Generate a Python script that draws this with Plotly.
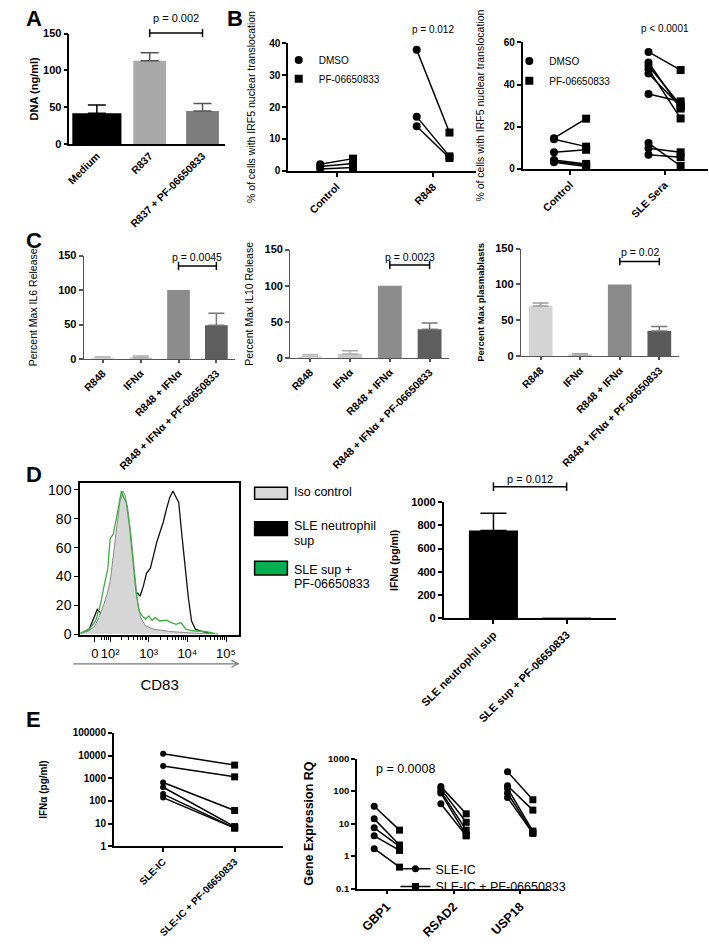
import math
import plotly.graph_objects as go

W, H = 709, 946
FONT = "Liberation Sans, Arial, Helvetica, sans-serif"

# ---------------- data ----------------
# Panel A
a_cats = ["Medium", "R837", "R837 + PF-06650833"]
a_mean = [42, 113, 45]
a_sem = [11, 11, 10]
a_pval = "p = 0.002"

# Panel B (left)
bl_cats = ["Control", "R848"]
bl_dmso = [[2.0, 1.3, 0.5], [38.0, 17.0, 14.0]]
bl_pf = [[3.8, 2.3, 1.0], [12.0, 4.5, 4.0]]
bl_pval = "p = 0.012"

# Panel B (right)
br_cats = ["Control", "SLE Sera"]
br_dmso = [[14.5, 14.0, 7.8, 4.2, 3.6, 3.1],
           [55.5, 50.5, 48.9, 47.3, 45.3, 35.5, 12.2, 9.7, 6.7]]
br_pf = [[23.8, 10.5, 9.0, 2.3, 1.6, 1.1],
         [46.9, 28.6, 30.2, 23.9, 29.5, 32.0, 1.3, 7.8, 5.5]]
br_pval = "p < 0.0001"
b_groups = ["DMSO", "PF-06650833"]
b_title = "% of cells with IRF5 nuclear translocation"

# Panel C
c_cats = ["R848", "IFNα", "R848 + IFNα", "R848 + IFNα + PF-06650833"]
c_il6_mean = [2.4, 1.9, 100, 49]
c_il6_sem = [0.9, 2.4, 0, 17.5]
c_il10_mean = [2.5, 5.5, 100, 40]
c_il10_sem = [2.5, 4.5, 0, 8.5]
c_pb_mean = [70, 1.8, 100, 35]
c_pb_sem = [4, 1.4, 0, 6.5]
c_pvals = ["p = 0.0045", "p = 0.0023", "p = 0.02"]
c_titles = ["Percent Max IL6 Release", "Percent Max IL10 Release", "Percent Max plasmablasts"]

# Panel D histogram (x in display decades of CD83, y in % of max)
d_tick_pos = [1.608, 2, 3, 4, 5]
d_tick_text = ["0", "10²", "10³", "10⁴", "10⁵"]
iso_x = [1.25, 1.458, 1.608, 1.708, 1.833, 1.917, 2.0, 2.083, 2.167, 2.25, 2.333, 2.392,
         2.458, 2.542, 2.625, 2.708, 2.792, 2.917, 3.125, 3.542, 4.125, 4.792]
iso_y = [0.5, 2.3, 5.7, 11.4, 20.5, 27.4, 36.5, 54.8, 75.3, 91.3, 99.3, 95.9,
         86.8, 68.5, 45.7, 22.8, 11.4, 5.7, 3.4, 1.8, 0.7, 0.2]
sle_x = [1.25, 1.458, 1.667, 1.792, 1.917, 2.083, 2.25, 2.458, 2.625, 2.708,
         2.775, 2.858, 2.942, 3.042, 3.125, 3.208, 3.292, 3.375, 3.458, 3.542,
         3.625, 3.692, 3.775, 3.858, 3.942, 4.025, 4.108, 4.208, 4.375, 4.625]
sle_y = [0.5, 3.4, 17.1, 13.7, 18.0, 22.0, 24.0, 26.0, 27.5, 28.5,
         26.3, 33.1, 42.2, 45.7, 54.8, 63.9, 70.8, 77.6, 86.8, 94.7,
         99.3, 95.9, 91.3, 68.5, 45.7, 25.1, 9.1, 3.4, 1.8, 0.5]
pf_x = [1.225, 1.458, 1.625, 1.75, 1.833, 1.942, 2.0, 2.083, 2.167, 2.233,
        2.292, 2.333, 2.417, 2.5, 2.583, 2.667, 2.75, 2.833, 2.917, 3.0,
        3.083, 3.167, 3.292, 3.458, 3.583, 3.708, 3.833, 3.958, 4.125, 4.458, 4.708]
pf_y = [0.5, 3.4, 9.1, 20.5, 32.0, 45.7, 66.2, 69.6, 81.0, 91.3,
        99.3, 95.9, 91.3, 75.3, 52.5, 29.7, 16.0, 12.6, 10.3, 12.6,
        9.6, 11.4, 9.1, 9.6, 8.0, 6.8, 8.0, 3.4, 2.3, 1.8, 0.5]
d_legend_lines = [["Iso control"], ["SLE neutrophil", "sup"], ["SLE sup +", "PF-06650833"]]

# Panel D bar
d_cats = ["SLE neutrophil sup", "SLE sup + PF-06650833"]
d_mean = [755, 4]
d_sem = [150, 0]
d_pval = "p = 0.012"

# Panel E left
e_cats = ["SLE-IC", "SLE-IC + PF-06650833"]
e_ic = [12000, 3500, 650, 400, 200, 140]
e_ic_pf = [3800, 1150, 38, 7.4, 6.5, 6.3]
e_yticks = [1, 10, 100, 1000, 10000, 100000]

# Panel E right
er_genes = ["GBP1", "RSAD2", "USP18"]
er_ic = [[34, 14, 7.4, 4.2, 1.7], [137, 117, 98, 87, 41], [394, 145, 122, 87, 63]]
er_pf = [[6.3, 2.2, 2.0, 1.5, 0.46], [20, 11, 6.3, 4.4, 4.2], [54, 26, 5.9, 5.3, 5.0]]
er_groups = ["SLE-IC", "SLE-IC + PF-06650833"]
er_pval = "p = 0.0008"
er_yticks = [0.1, 1, 10, 100, 1000]


# ---------------- helpers ----------------
def xd(l, r):
    return [l / W, r / W]


def yd(top, bottom):
    return [1 - bottom / H, 1 - top / H]


def px(x):
    return x / W


def py(y):
    return 1 - y / H


def bold(s):
    return dict(family=FONT, size=s, color="black", weight="bold")


def reg(s):
    return dict(family=FONT, size=s, color="black")


def ax(**kw):
    d = dict(showgrid=False, zeroline=False, showline=True, linecolor="black", linewidth=1.5,
             ticks="outside", ticklen=4, tickwidth=1.5, tickcolor="black", fixedrange=True)
    d.update(kw)
    return d


def leg(x, top, size):
    return dict(x=px(x), y=py(top), xanchor="left", yanchor="top", font=reg(size),
                bgcolor="rgba(0,0,0,0)", itemwidth=30, tracegroupgap=0, borderwidth=0)


fig = go.Figure()


def add_bars(xa, ya, cats, means, sems, colors, ecolors, widths, capw):
    for c, m, s, col, ec, w in zip(cats, means, sems, colors, ecolors, widths):
        fig.add_trace(go.Bar(
            x=[c], y=[m], width=[w], xaxis=xa, yaxis=ya, showlegend=False,
            marker=dict(color=col, line=dict(width=0)),
            error_y=dict(type="data", array=[s], arrayminus=[0], symmetric=False,
                         visible=s > 0, color=ec, thickness=1.5, width=capw),
            hoverinfo="skip"))


def add_bracket(xa, ya, c1, c2):
    fig.add_trace(go.Scatter(
        x=[c1, c1, None, c1, c2, None, c2, c2], y=[0, 1, None, 0.5, 0.5, None, 0, 1],
        mode="lines", line=dict(color="black", width=1.5), xaxis=xa, yaxis=ya,
        showlegend=False, hoverinfo="skip"))


def add_pairs(xa, ya, g1, g2, off, msize, names, legends, lw=1.5, legend_lines=False):
    lx, ly, x1, y1, x2, y2 = [], [], [], [], [], []
    for ci, (v1, v2) in enumerate(zip(g1, g2)):
        for a, b in zip(v1, v2):
            lx += [ci - off, ci + off, None]
            ly += [a, b, None]
            x1 += [ci - off]
            y1 += [a]
            x2 += [ci + off]
            y2 += [b]
    fig.add_trace(go.Scatter(x=lx, y=ly, mode="lines", line=dict(color="black", width=lw),
                             xaxis=xa, yaxis=ya, showlegend=False, hoverinfo="skip",
                             cliponaxis=False))
    for xs, ys, sym, nm, lg in [(x1, y1, "circle", names[0], legends[0]),
                                (x2, y2, "square", names[1], legends[1])]:
        if legend_lines:
            xi, yi = [], []
            for a, b in zip(xs, ys):
                xi += [a, None]
                yi += [b, None]
            xs, ys, mode = xi, yi, "lines+markers"
        else:
            mode = "markers"
        fig.add_trace(go.Scatter(
            x=xs, y=ys, mode=mode, name=nm, legend=lg, showlegend=True,
            marker=dict(symbol=sym, size=msize, color="black"),
            line=dict(color="black", width=lw), connectgaps=False,
            xaxis=xa, yaxis=ya, cliponaxis=False))


# ---------------- Panel A ----------------
add_bars("x", "y", a_cats, a_mean, a_sem, ["#000000", "#a9a9a9", "#7d7d7d"],
         ["#000000", "#555555", "#555555"], [0.93, 0.62, 0.62], 9)
add_bracket("x", "y11", a_cats[1], a_cats[2])

# ---------------- Panel B ----------------
add_pairs("x2", "y2", bl_dmso, bl_pf, 0.17, 8, b_groups, ["legend", "legend4"])
add_pairs("x3", "y3", br_dmso, br_pf, 0.17, 8, b_groups, ["legend2", "legend5"])

# ---------------- Panel C ----------------
c_cols = ["#dcdcdc", "#c8c8c8", "#8c8c8c", "#5e5e5e"]
c_ecols = ["#bbbbbb", "#aaaaaa", "#777777", "#777777"]
add_bars("x4", "y4", c_cats, c_il6_mean, c_il6_sem, c_cols, c_ecols, [0.6] * 4, 8)
add_bars("x5", "y5", c_cats, c_il10_mean, c_il10_sem, c_cols, c_ecols, [0.6] * 4, 8)
add_bars("x6", "y6", c_cats, c_pb_mean, c_pb_sem, ["#d4d4d4", "#c8c8c8", "#8a8a8a", "#5a5a5a"],
         ["#999999", "#aaaaaa", "#777777", "#777777"], [0.6] * 4, 8)
add_bracket("x4", "y12", c_cats[2], c_cats[3])
add_bracket("x5", "y13", c_cats[2], c_cats[3])
add_bracket("x6", "y14", c_cats[2], c_cats[3])

# ---------------- Panel D histogram ----------------
fig.add_trace(go.Scatter(x=sle_x, y=sle_y, mode="lines", line=dict(color="#111111", width=1.3),
                         xaxis="x7", yaxis="y7", showlegend=False, hoverinfo="skip"))
fig.add_trace(go.Scatter(x=iso_x, y=iso_y, mode="lines", fill="tozeroy", fillcolor="#d6d6d6",
                         line=dict(color="#8a8a8a", width=1), xaxis="x7", yaxis="y7",
                         showlegend=False, hoverinfo="skip"))
fig.add_trace(go.Scatter(x=pf_x, y=pf_y, mode="lines", line=dict(color="#3cb043", width=1.3),
                         xaxis="x7", yaxis="y7", showlegend=False, hoverinfo="skip"))

# ---------------- Panel D bar ----------------
add_bars("x8", "y8", d_cats, d_mean, d_sem, ["#000000", "#999999"], ["#000000", "#999999"],
         [0.67, 0.67], 13)
add_bracket("x8", "y15", d_cats[0], d_cats[1])

# ---------------- Panel E left ----------------
lx, ly = [], []
for a, b in zip(e_ic, e_ic_pf):
    lx += [e_cats[0], e_cats[1], None]
    ly += [a, b, None]
fig.add_trace(go.Scatter(x=lx, y=ly, mode="lines", line=dict(color="black", width=1.5),
                         xaxis="x9", yaxis="y9", showlegend=False, hoverinfo="skip"))
fig.add_trace(go.Scatter(x=[e_cats[0]] * len(e_ic), y=e_ic, mode="markers",
                         marker=dict(symbol="circle", size=6, color="black"),
                         xaxis="x9", yaxis="y9", showlegend=False, cliponaxis=False))
fig.add_trace(go.Scatter(x=[e_cats[1]] * len(e_ic_pf), y=e_ic_pf, mode="markers",
                         marker=dict(symbol="square", size=7, color="black"),
                         xaxis="x9", yaxis="y9", showlegend=False, cliponaxis=False))

# ---------------- Panel E right ----------------
add_pairs("x10", "y10", er_ic, er_pf, 0.19, 7, er_groups, ["legend3", "legend6"],
          legend_lines=True)

# ---------------- layout ----------------
c_x = dict(type="category", range=[-0.5, 3.5], tickangle=-45, tickfont=bold(10.5),
           linecolor="#555555", tickcolor="#555555", linewidth=1.3, ticklen=3)
c_y = dict(range=[0, 150], tickvals=[0, 50, 100, 150], tickfont=bold(11),
           linecolor="#555555", tickcolor="#555555", linewidth=1.3)

minor_d = []
for k in [1, 2, 3, 4]:
    for m in range(2, 10):
        v = k + math.log10(m)
        if 1.7 < v < 5.3:
            minor_d.append(v)

layout = dict(
    width=W, height=H, margin=dict(l=0, r=0, t=0, b=0),
    paper_bgcolor="white", plot_bgcolor="rgba(0,0,0,0)",
    barmode="overlay", font=dict(family=FONT, color="black"),
    hovermode=False,
    # A
    xaxis=ax(domain=xd(46, 207), anchor="y", type="category", range=[-0.52, 2.42],
             tickangle=-45, tickfont=bold(10.5), ticks=""),
    yaxis=ax(domain=yd(28, 140), anchor="x", range=[0, 150], tickvals=[0, 50, 100, 150],
             tickfont=bold(11), title=dict(text="DNA (ng/ml)", font=bold(11), standoff=2)),
    # B left
    xaxis2=ax(domain=xd(273, 467), anchor="y2", range=[-0.5, 1.44], tickvals=[0, 1],
              ticktext=bl_cats, tickangle=-45, tickfont=bold(10.5), linewidth=2),
    yaxis2=ax(domain=yd(38, 167), anchor="x2", range=[0, 40], dtick=10, tickfont=bold(10),
              linewidth=2, title=dict(text=b_title, font=reg(10.5), standoff=12)),
    # B right
    xaxis3=ax(domain=xd(516, 708), anchor="y3", range=[-0.5, 1.46], tickvals=[0, 1],
              ticktext=br_cats, tickangle=-45, tickfont=bold(10.5), linewidth=2),
    yaxis3=ax(domain=yd(37, 165), anchor="x3", range=[0, 60], dtick=20, tickfont=bold(10),
              linewidth=2, title=dict(text=b_title, font=reg(10.5), standoff=17)),
    # C
    xaxis4=ax(domain=xd(61, 218), anchor="y4", **c_x),
    yaxis4=ax(domain=yd(253, 358), anchor="x4",
              title=dict(text=c_titles[0], font=reg(10.5), standoff=18), **c_y),
    xaxis5=ax(domain=xd(275, 440), anchor="y5", **c_x),
    yaxis5=ax(domain=yd(247, 357), anchor="x5",
              title=dict(text=c_titles[1], font=reg(10.5), standoff=8), **c_y),
    xaxis6=ax(domain=xd(514, 678), anchor="y6", **c_x),
    yaxis6=ax(domain=yd(246, 355), anchor="x6",
              title=dict(text=c_titles[2], font=bold(9.5), standoff=8), **c_y),
    # D histogram
    xaxis7=ax(domain=xd(57, 222), anchor="y7", range=[1.22, 5.34], tickvals=d_tick_pos,
              ticktext=d_tick_text, tickfont=reg(13), tickangle=0, mirror=True, ticklen=5,
              tickwidth=1.2,
              minor=dict(tickvals=minor_d, ticklen=3, tickwidth=1, tickcolor="black",
                         ticks="outside"),
              title=dict(text="CD83", font=reg(15), standoff=20)),
    yaxis7=ax(domain=yd(484, 638), anchor="x7", range=[-0.8, 104.6],
              tickvals=[0, 20, 40, 60, 80, 100], tickfont=reg(14), mirror=True,
              tickwidth=1.2),
    # D bar
    xaxis8=ax(domain=xd(434, 613), anchor="y8", type="category", range=[-0.68, 1.68],
              tickangle=-45, tickfont=bold(11)),
    yaxis8=ax(domain=yd(503, 621), anchor="x8", range=[0, 1000], dtick=200,
              tickfont=bold(11), title=dict(text="IFNα (pg/ml)", font=bold(10.5), standoff=11)),
    # E left
    xaxis9=ax(domain=xd(92, 267), anchor="y9", type="category", range=[-0.69, 1.67],
              tickangle=-45, tickfont=bold(10)),
    yaxis9=ax(domain=yd(737, 852), anchor="x9", type="log", range=[0, 5],
              tickvals=e_yticks, ticktext=[str(v) for v in e_yticks], tickfont=bold(10),
              title=dict(text="IFNα (pg/ml)", font=bold(10), standoff=23)),
    # E right
    xaxis10=ax(domain=xd(344, 543), anchor="y10", range=[-0.45, 2.43], tickvals=[0, 1, 2],
               ticktext=er_genes, tickangle=-45, tickfont=bold(12.5)),
    yaxis10=ax(domain=yd(763, 895), anchor="x10", type="log", range=[-1, 3],
               tickvals=er_yticks, ticktext=["0.1", "1", "10", "100", "1000"],
               tickfont=bold(9.5),
               title=dict(text="Gene Expression RQ", font=bold(12.5), standoff=12)),
    # bracket axes
    yaxis11=dict(domain=yd(23, 32), anchor="x", range=[0, 1], visible=False, fixedrange=True),
    yaxis12=dict(domain=yd(259, 268), anchor="x4", range=[0, 1], visible=False, fixedrange=True),
    yaxis13=dict(domain=yd(258, 267), anchor="x5", range=[0, 1], visible=False, fixedrange=True),
    yaxis14=dict(domain=yd(255, 263), anchor="x6", range=[0, 1], visible=False, fixedrange=True),
    yaxis15=dict(domain=yd(483, 492), anchor="x8", range=[0, 1], visible=False, fixedrange=True),
    # legends: one entry each so that spacing matches the reference
    legend=leg(263, 40, 10),
    legend4=leg(263, 59, 10),
    legend2=leg(502, 41, 10),
    legend5=leg(502, 61, 10),
    legend3=leg(384, 860, 12.5),
    legend6=leg(384, 878, 12.5),
)

annotations = []
for t, x, y in [("A", 9, 13), ("B", 218, 13), ("C", 9, 238), ("D", 9, 475), ("E", 9, 723)]:
    annotations.append(dict(text=t, x=px(x), y=py(y), xref="paper", yref="paper",
                            showarrow=False, font=bold(22), xanchor="center", yanchor="middle"))
# p values
for t, x, xr, y, f in [(a_pval, 1.5, "x", 12, reg(11)),
                       (bl_pval, 1, "x2", 24, reg(10)),
                       (br_pval, 1, "x3", 23, reg(10)),
                       (c_pvals[0], 2.5, "x4", 255, reg(10.5)),
                       (c_pvals[1], 2.5, "x5", 254, reg(10.5)),
                       (c_pvals[2], 2.5, "x6", 249, reg(10.5)),
                       (d_pval, 0.5, "x8", 480, reg(11))]:
    annotations.append(dict(text=t, x=x, xref=xr, y=py(y), yref="paper", showarrow=False,
                            font=f, xanchor="center", yanchor="middle"))
annotations.append(dict(text=er_pval, x=px(362), xref="paper", xanchor="left", y=py(774),
                        yref="paper", yanchor="middle", showarrow=False, font=reg(12.5)))
# D legend text (one annotation per line)
for lines, ys in zip(d_legend_lines, [[493], [527, 542], [571.5, 586]]):
    for t, yc in zip(lines, ys):
        annotations.append(dict(text=t, x=px(277), y=py(yc), xref="paper", yref="paper",
                                xanchor="left", yanchor="middle", showarrow=False,
                                font=reg(12.5)))

shapes = []
for (t, b), fill in zip([(488, 500), (523, 537), (563, 577)], ["#d9d9d9", "#000000", "#00b050"]):
    shapes.append(dict(type="rect", xref="paper", yref="paper", x0=px(238), x1=px(272),
                       y0=py(b), y1=py(t), fillcolor=fill, line=dict(color="black", width=1.5)))
# D arrow under the CD83 axis (line + open head)
shapes.append(dict(type="line", xref="paper", yref="paper", x0=px(50), x1=px(220),
                   y0=py(667), y1=py(667), line=dict(color="#777777", width=1.2)))
shapes.append(dict(type="path", xref="paper", yref="paper",
                   path="M %f,%f L %f,%f L %f,%f" % (px(214), py(663.5), px(221), py(667),
                                                   px(214), py(670.5)),
                   line=dict(color="#777777", width=1.2)))

layout["annotations"] = annotations
layout["shapes"] = shapes
fig.update_layout(**layout)

fig.write_html("out.html", config={"displayModeBar": False},
               post_script="document.body.style.margin='0';document.body.style.padding='0';")
